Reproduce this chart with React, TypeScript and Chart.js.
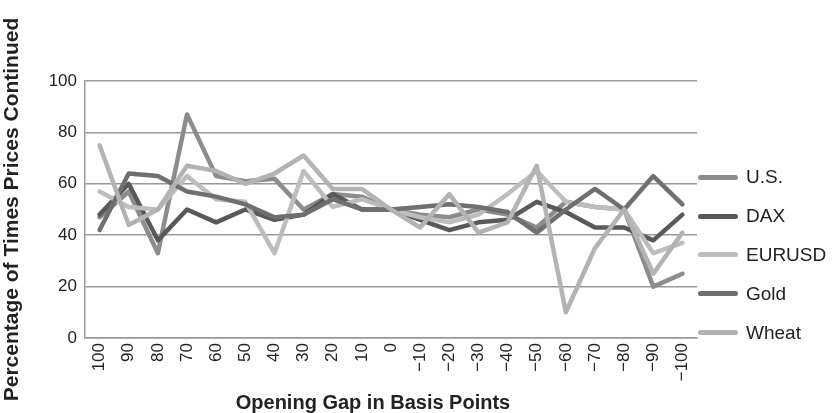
import React, { useEffect, useRef } from "react";
import { Chart, registerables } from "chart.js";

Chart.register(...registerables);

const categories = ["100", "90", "80", "70", "60", "50", "40", "30", "20", "10", "0", "\u221210", "\u221220", "\u221230", "\u221240", "\u221250", "\u221260", "\u221270", "\u221280", "\u221290", "\u2212100"];

const usValues = [47, 57, 33, 87, 63, 61, 62, 50, 56, 55, 50, 48, 47, 50, 48, 43, 53, 51, 50, 20, 25];
const daxValues = [48, 60, 38, 50, 45, 50, 46, 48, 56, 50, 50, 46, 42, 45, 46, 53, 49, 43, 43, 38, 48];
const eurusdValues = [57, 51, 50, 63, 54, 53, 33, 65, 51, 54, 50, 47, 45, 48, 56, 65, 53, 51, 50, 33, 37];
const goldValues = [42, 64, 63, 57, 55, 52, 47, 48, 54, 50, 50, 51, 52, 51, 49, 41, 50, 58, 50, 63, 52];
const wheatValues = [75, 44, 50, 67, 65, 60, 64, 71, 58, 58, 50, 43, 56, 41, 45, 67, 10, 35, 50, 25, 41];

const seriesNames = ["U.S.", "DAX", "EURUSD", "Gold", "Wheat"];
const seriesColors = ["#8c8c8c", "#595959", "#bdbdbd", "#6f6f6f", "#b3b3b3"];
const seriesValues = [usValues, daxValues, eurusdValues, goldValues, wheatValues];

const yTicks = [0, 20, 40, 60, 80, 100];

const xTitle = "Opening Gap in Basis Points";
const yTitle = "Percentage of Times Prices Continued";

const FONT = "'Liberation Sans', Arial, Helvetica, sans-serif";

export default function App() {
  const canvasRef = useRef<HTMLCanvasElement | null>(null);

  useEffect(() => {
    if (!canvasRef.current) return;
    const chart = new Chart(canvasRef.current, {
      type: "line",
      data: {
        labels: categories,
        datasets: seriesNames.map((name, i) => ({
          label: name,
          data: seriesValues[i],
          borderColor: seriesColors[i],
          backgroundColor: seriesColors[i],
          borderWidth: 4.5,
          pointRadius: 0,
          borderJoinStyle: "round" as const,
          borderCapStyle: "round" as const,
          tension: 0,
          fill: false,
          order: 5 - i,
        })),
      },
      options: {
        animation: false,
        responsive: false,
        maintainAspectRatio: false,
        layout: { padding: { left: 0, right: 137, top: 81, bottom: 0 } },
        plugins: {
          legend: { display: false },
          tooltip: { enabled: false },
        },
        scales: {
          x: {
            type: "category",
            offset: true,
            grid: { display: false, drawTicks: false },
            border: { display: true, color: "#999999", width: 1.5 },
            ticks: {
              color: "#222222",
              font: { family: FONT, size: 17 },
              maxRotation: 90,
              minRotation: 90,
              autoSkip: false,
              padding: 5,
            },
            title: { display: false },
            afterFit: (scale: any) => {
              scale.height = 75;
            },
          },
          y: {
            min: 0,
            max: 100,
            afterBuildTicks: (scale: any) => {
              scale.ticks = yTicks.map((v) => ({ value: v }));
            },
            grid: { color: "#999999", lineWidth: 1.5, drawTicks: false },
            border: { display: true, color: "#999999", width: 1.5 },
            ticks: {
              color: "#222222",
              font: { family: FONT, size: 17 },
              padding: 8,
            },
            title: {
              display: true,
              text: yTitle,
              color: "#222222",
              font: { family: FONT, size: 21, weight: "bold" },
              padding: { top: 0, bottom: 0 },
            },
            afterFit: (scale: any) => {
              scale.width = 85;
            },
          },
        },
      },
    });
    return () => chart.destroy();
  }, []);

  return (
    <div style={{ position: "absolute", left: 0, top: 0, width: 834, height: 413, background: "#ffffff", overflow: "hidden" }}>
      <canvas ref={canvasRef} width={834} height={413} style={{ position: "absolute", left: 0, top: 0 }} />
      <div
        style={{
          position: "absolute",
          left: 0,
          top: 391,
          width: 746,
          textAlign: "center",
          fontFamily: FONT,
          fontSize: 20,
          fontWeight: "bold",
          lineHeight: "22px",
          color: "#222222",
          whiteSpace: "nowrap",
        }}
      >
        {xTitle}
      </div>
      <div style={{ position: "absolute", left: 698, top: 158, fontFamily: FONT, fontSize: 19, color: "#222222", whiteSpace: "nowrap" }}>
        {seriesNames.map((name, i) => (
          <div key={name} style={{ display: "flex", alignItems: "center", height: 38.8 }}>
            <div style={{ width: 40, height: 5, borderRadius: 3, background: seriesColors[i], marginRight: 8, flex: "none" }} />
            <span>{name}</span>
          </div>
        ))}
      </div>
    </div>
  );
}
